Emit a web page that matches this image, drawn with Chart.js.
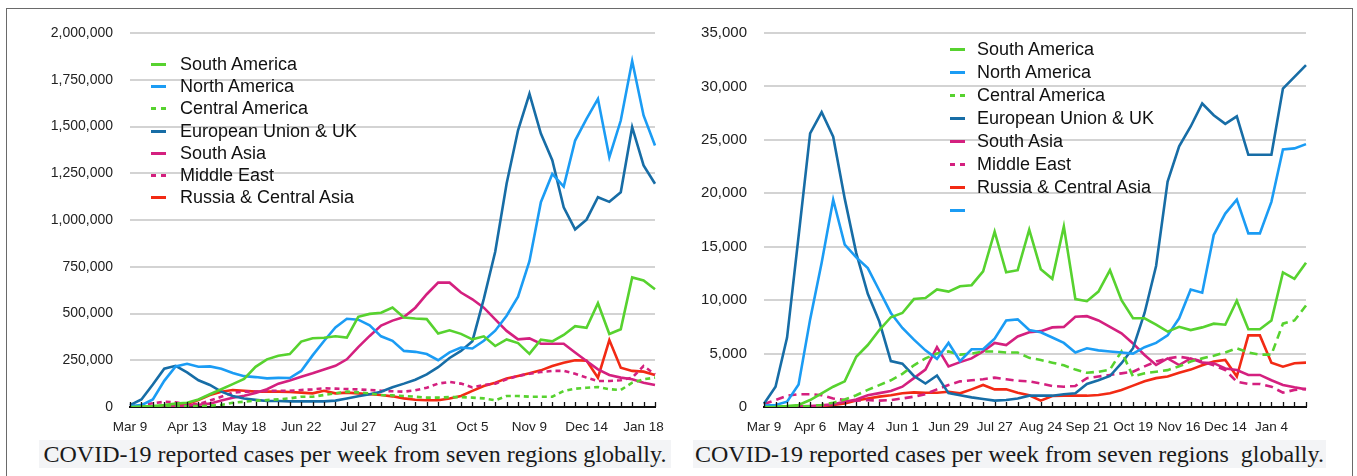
<!DOCTYPE html>
<html><head><meta charset="utf-8">
<script src="https://cdn.jsdelivr.net/npm/chart.js@4.4.1/dist/chart.umd.min.js"></script>
<style>
html,body{margin:0;padding:0;background:#fff;width:1357px;height:476px;overflow:hidden;position:relative;}
#frame{position:absolute;left:6px;top:8px;width:1347px;height:480px;border:1px solid #6a6a6a;box-sizing:border-box;}
.chartbox{position:absolute;top:0;height:445px;}
.caption{position:absolute;top:440px;height:28px;background:#f3f4f6;font-family:"Liberation Serif","Times New Roman",serif;font-size:24px;line-height:28px;color:#1a1a1a;text-align:center;white-space:pre;}
.legend{position:absolute;left:0;top:0;font-family:"Liberation Sans",Arial,sans-serif;font-size:18px;color:#111;}
.legend .row{position:absolute;height:22px;line-height:22px;white-space:nowrap;}
.legend .mk{position:absolute;left:0;top:10px;height:3px;width:15px;}
.legend .txt{position:absolute;top:0;}
</style></head>
<body>
<div id="frame"></div>
<div class="chartbox" style="left:0;width:680px;"><canvas id="cLeft"></canvas></div>
<div class="chartbox" style="left:680px;width:677px;"><canvas id="cRight"></canvas></div>
<div class="legend" id="legLeft"></div>
<div class="legend" id="legRight"></div>
<div class="caption" style="left:39px;width:632px;">COVID-19 reported cases per week from seven regions globally.</div>
<div class="caption" style="left:693px;width:633px;">COVID-19 reported cases per week from seven regions  globally.</div>
<script>
// ---------- categories ----------
const weeksLeft = ["Mar 9","Mar 16","Mar 23","Mar 30","Apr 6","Apr 13","Apr 20","Apr 27","May 4","May 11","May 18","May 25","Jun 1","Jun 8","Jun 15","Jun 22","Jun 29","Jul 6","Jul 13","Jul 20","Jul 27","Aug 3","Aug 10","Aug 17","Aug 24","Aug 31","Sep 7","Sep 14","Sep 21","Sep 28","Oct 5","Oct 12","Oct 19","Oct 26","Nov 2","Nov 9","Nov 16","Nov 23","Nov 30","Dec 7","Dec 14","Dec 21","Dec 28","Jan 4","Jan 11","Jan 18","Jan 25"];
const weeksRight = ["Mar 9","Mar 16","Mar 23","Mar 30","Apr 6","Apr 13","Apr 20","Apr 27","May 4","May 11","May 18","May 25","Jun 1","Jun 8","Jun 15","Jun 22","Jun 29","Jul 6","Jul 13","Jul 20","Jul 27","Aug 3","Aug 10","Aug 17","Aug 24","Aug 31","Sep 7","Sep 14","Sep 21","Sep 28","Oct 5","Oct 12","Oct 19","Oct 26","Nov 2","Nov 9","Nov 16","Nov 23","Nov 30","Dec 7","Dec 14","Dec 21","Dec 28","Jan 4","Jan 11","Jan 18","Jan 25","Feb 1"];
// ---------- tick labels ----------
const tickLabelsLeft = ["Mar 9","Apr 13","May 18","Jun 22","Jul 27","Aug 31","Oct 5","Nov 9","Dec 14","Jan 18"];
const tickStepLeft = 5;
const tickLabelsRight = ["Mar 9","Apr 6","May 4","Jun 1","Jun 29","Jul 27","Aug 24","Sep 21","Oct 19","Nov 16","Dec 14","Jan 4"];
const tickStepRight = 4;
const yMaxLeft = 2000000, yStepLeft = 250000;
const yMaxRight = 35000, yStepRight = 5000;

const seriesNames = ["South America","North America","Central America","European Union & UK","South Asia","Middle East","Russia & Central Asia"];

// ---------- left chart values ----------
const southAmericaL = [0,2000,5000,10000,18000,23000,40000,68000,95000,122000,150000,215000,255000,274000,283000,350000,368000,370000,378000,371000,482000,498000,504000,532000,479000,473000,470000,393000,410000,391000,362000,378000,326000,361000,342000,284000,360000,351000,385000,432000,423000,555000,390000,416000,693000,677000,630000];
const northAmericaL = [5000,10000,40000,140000,217000,231000,215000,217000,205000,182000,165000,160000,153000,156000,155000,193000,276000,353000,425000,472000,467000,437000,378000,354000,300000,295000,283000,250000,292000,318000,313000,354000,408000,488000,590000,780000,1095000,1246000,1179000,1425000,1541000,1648000,1336000,1532000,1850000,1559000,1398000];
const centralAmericaL = [0,0,1000,2000,3000,4000,5000,7000,11000,23000,28000,34000,37000,41000,46000,55000,55000,64000,73000,82000,78000,73000,64000,62000,59000,55000,50000,50000,53000,53000,50000,46000,36000,59000,59000,55000,55000,55000,86000,98000,103000,107000,95000,91000,130000,148000,157000];
const europeUKL = [10000,40000,120000,205000,220000,185000,143000,118000,82000,59000,45000,38000,32000,32000,30000,30000,30000,30000,34000,45000,57000,68000,82000,106000,125000,146000,174000,213000,262000,300000,352000,578000,830000,1195000,1480000,1675000,1462000,1320000,1068000,950000,1002000,1122000,1097000,1148000,1496000,1292000,1194000];
const southAsiaL = [0,0,1000,3000,5000,8000,12000,18000,35000,50000,60000,75000,95000,125000,142000,162000,180000,200000,220000,255000,320000,380000,435000,462000,481000,531000,603000,665000,665000,612000,576000,531000,469000,407000,362000,367000,338000,338000,338000,291000,246000,201000,171000,157000,148000,130000,118000];
const middleEastL = [5000,10000,20000,28000,25000,15000,16000,34000,55000,77000,82000,82000,86000,87000,86000,91000,94000,100000,98000,96000,94000,91000,87000,84000,82000,89000,103000,125000,134000,125000,105000,118000,125000,148000,166000,178000,187000,193000,193000,178000,157000,139000,139000,143000,157000,219000,175000];
const russiaCAL = [0,1000,2000,3000,5000,16000,37000,64000,82000,91000,87000,82000,82000,82000,80000,77000,73000,87000,73000,77000,73000,68000,64000,57000,46000,39000,36000,36000,45000,59000,86000,112000,130000,153000,166000,180000,196000,219000,237000,250000,248000,157000,358000,210000,193000,189000,171000];

// ---------- right chart values ----------
const southAmericaR = [0,30,90,190,650,1280,1900,2400,4700,5800,7200,8400,8800,10100,10200,11000,10800,11300,11400,12700,16400,12600,12800,16600,12900,12000,16900,10100,9900,10800,12800,10000,8300,8300,7700,7050,7500,7200,7450,7800,7700,9950,7270,7270,8100,12600,12000,13500];
const northAmericaR = [125,190,500,2100,8200,13500,19400,15200,14000,13000,10900,8800,7400,6300,5300,4500,6000,4300,5400,5400,6400,8100,8200,7200,7000,6500,6000,5100,5500,5300,5200,5100,5000,5600,6000,6700,8300,11000,10700,16100,18100,19400,16250,16250,19200,24100,24200,24600];
const centralAmericaR = [0,0,20,50,100,190,400,700,1100,1600,2050,2500,3100,3900,4550,5000,5200,4900,5000,5200,5200,5100,5100,4600,4400,4150,3900,3500,3200,3300,3500,5200,2850,3150,3300,3450,3800,4250,4550,4800,5100,5500,5100,4900,4900,7800,8100,9500];
const europeUKR = [300,1900,6500,16000,25600,27600,25300,19500,14400,10600,8000,4300,4050,2900,2200,2950,1300,1100,900,750,600,650,800,1060,1060,1060,1200,1280,2150,2500,2900,4100,5500,8800,13200,21100,24400,26250,28400,27300,26500,27200,23600,23600,23600,29800,30900,32000];
const southAsiaR = [0,0,30,60,100,150,250,500,700,1100,1300,1500,1900,2700,3500,5600,3800,4200,4550,5200,6000,5800,6600,7000,7100,7450,7500,8450,8500,8100,7500,6900,5950,4870,3930,4550,3930,4550,4150,4100,3600,3460,3000,3000,2500,2060,1840,1650];
const middleEastR = [280,650,1060,1200,1200,1100,800,650,600,650,600,650,800,970,1200,1650,2060,2400,2500,2600,2750,2600,2460,2400,2200,1970,1900,1970,2700,2850,3000,3150,3300,3800,4250,4550,4700,4550,4250,3900,3450,2370,2150,2150,1900,1340,1600,1700];
const russiaCAR = [0,0,0,20,50,100,190,340,600,800,970,1100,1280,1370,1340,1340,1430,1280,1650,2060,1650,1650,1340,1100,600,1030,1060,1060,1060,1120,1280,1600,2000,2400,2700,2850,3200,3500,3900,4250,4400,2850,6700,6700,4150,3770,4100,4150];

// ---------- styles ----------
const GREEN = '#57d22f', LBLUE = '#1b9cf4', DBLUE = '#176da6', MAGENTA = '#d4207f', RED = '#f22a14';
const seriesColors = [GREEN, LBLUE, GREEN, DBLUE, MAGENTA, MAGENTA, RED];
const seriesDashed = [false, false, true, false, false, true, false];

function buildDatasets(values, dash, extra) {
  const ds = values.map((v, k) => ({
    label: seriesNames[k], data: v, borderColor: seriesColors[k], backgroundColor: seriesColors[k],
    borderWidth: 2.6, borderDash: seriesDashed[k] ? dash : [], pointRadius: 0, tension: 0, fill: false
  }));
  if (extra) ds.push({label: '', data: [], borderColor: LBLUE, backgroundColor: LBLUE, borderWidth: 2.6, pointRadius: 0});
  return ds;
}

const innerTicks = {
  id: 'innerTicks',
  afterDraw(chart) {
    const xs = chart.scales.x, ctx = chart.ctx, b = chart.chartArea.bottom;
    ctx.save(); ctx.strokeStyle = '#111'; ctx.lineWidth = 1.3;
    for (let i = 0; i < chart.data.labels.length; i++) {
      const x = Math.round(xs.getPixelForValue(i)) + 0.5;
      ctx.beginPath(); ctx.moveTo(x, b - 5); ctx.lineTo(x, b); ctx.stroke();
    }
    ctx.restore();
  }
};

function makeChart(id, labels, tickLabels, tickStep, datasets, yMax, yStep, yFont, axisW, padRight) {
  return new Chart(document.getElementById(id), {
    type: 'line',
    data: {labels: labels, datasets: datasets},
    plugins: [innerTicks],
    options: {
      responsive: true, maintainAspectRatio: false, animation: false,
      layout: {padding: {left: 0, top: 33, right: padRight, bottom: 8}},
      plugins: {legend: {display: false}, tooltip: {enabled: false}},
      scales: {
        x: {
          grid: {display: true, drawOnChartArea: false, drawTicks: false},
          border: {display: true, color: '#111', width: 2},
          ticks: {
            autoSkip: false, maxRotation: 0, minRotation: 0, padding: 12, color: '#222',
            font: {family: '"Liberation Sans", Arial, sans-serif', size: 13.5},
            callback: (v, i) => (i % tickStep === 0 && tickLabels[i / tickStep] !== undefined) ? tickLabels[i / tickStep] : ''
          },
          afterFit: (s) => { s.height = 30; }
        },
        y: {
          min: 0, max: yMax,
          grid: {color: '#d3d3d3', lineWidth: 2, drawTicks: false},
          border: {display: false},
          ticks: {
            stepSize: yStep, padding: 17, color: '#222',
            font: {family: '"Liberation Sans", Arial, sans-serif', size: yFont},
            callback: (v) => v.toLocaleString('en-US')
          },
          afterFit: (s) => { s.width = axisW; }
        }
      }
    }
  });
}

makeChart('cLeft', weeksLeft, tickLabelsLeft, tickStepLeft,
  buildDatasets([southAmericaL, northAmericaL, centralAmericaL, europeUKL, southAsiaL, middleEastL, russiaCAL], [5, 4], false),
  yMaxLeft, yStepLeft, 14, 130, 25);
const rightChart = makeChart('cRight', weeksRight, tickLabelsRight, tickStepRight,
  buildDatasets([southAmericaR, northAmericaR, centralAmericaR, europeUKR, southAsiaR, middleEastR, russiaCAR], [8, 5], true),
  yMaxRight, yStepRight, 15, 84, 51);

function buildLegend(elId, datasets, left, firstCenter, step, textOff) {
  const el = document.getElementById(elId);
  datasets.forEach((d, k) => {
    const row = document.createElement('div');
    row.className = 'row';
    row.style.left = left + 'px';
    row.style.top = (firstCenter - 11 + k * step) + 'px';
    const mk = document.createElement('span');
    mk.className = 'mk';
    if (d.borderDash && d.borderDash.length) {
      mk.style.background = 'repeating-linear-gradient(to right,' + d.borderColor + ' 0 5px, transparent 5px 10px)';
    } else {
      mk.style.background = d.borderColor;
    }
    const tx = document.createElement('span');
    tx.className = 'txt';
    tx.style.left = textOff + 'px';
    tx.textContent = d.label;
    row.appendChild(mk); row.appendChild(tx);
    el.appendChild(row);
  });
}
buildLegend('legLeft', buildDatasets([southAmericaL, northAmericaL, centralAmericaL, europeUKL, southAsiaL, middleEastL, russiaCAL], [5, 4], false), 151, 64, 22.2, 29);
buildLegend('legRight', rightChart.data.datasets, 950, 49, 23.0, 27);
</script>
</body></html>
